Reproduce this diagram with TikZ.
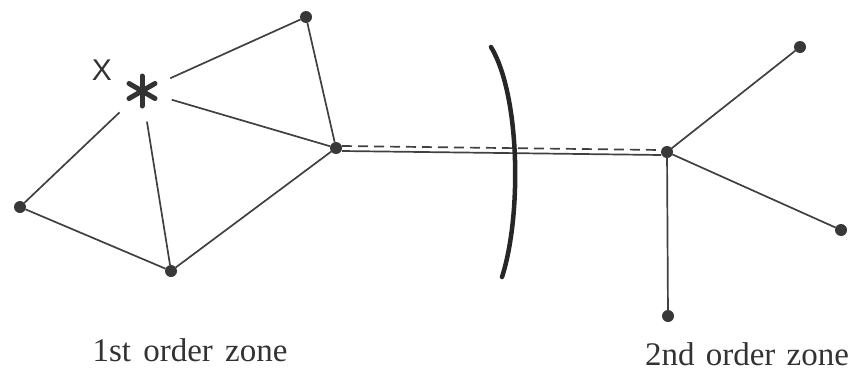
\documentclass[tikz,border=0pt]{standalone}
\usepackage{fontspec}
\setmainfont{Liberation Serif}
\newfontfamily\xfont{Liberation Sans}
\begin{document}
\begin{tikzpicture}[x=1pt,y=-1pt,
  dot/.style={circle,fill=black!78,inner sep=0pt,minimum size=12pt,outer sep=0pt},
  link/.style={draw=black!75,line width=1.7pt},
  lbl/.style={font=\fontsize{33}{36}\selectfont,text=black!80,inner sep=0pt}]
\useasboundingbox (0,0) rectangle (858,372);
% nodes
\node[dot] (top) at (306,17) {};
\node[circle,minimum size=62pt,inner sep=0pt,outer sep=0pt] (star) at (142,91) {};
\node[dot] (left) at (20,207) {};
\node[dot] (bot) at (171,271) {};
\node[dot] (hub1) at (336,148) {};
\node[dot] (hub2) at (667,152) {};
\node[dot] (r1) at (800,47) {};
\node[dot] (r2) at (841,230) {};
\node[dot] (r3) at (668,316) {};
% asterisk
\foreach \a in {90,30,150,210,270,330}
  \draw[line width=5pt,line cap=round,black!80] (star.center) -- ++(\a:-15);
\node[font=\xfont\fontsize{30}{33}\selectfont,text=black!80,inner sep=0pt] (xl) at (102,70) {X};
% first order links
\draw[link] (star) -- (top);
\draw[link] (star) -- (hub1);
\draw[link] (star) -- (left);
\draw[link] (star) -- (bot);
\draw[link] (left) -- (bot);
\draw[link] (bot) -- (hub1);
\draw[link] (top) -- (hub1);
% double connection
\draw[link,dash pattern=on 10pt off 6pt] ([yshift=2pt]hub1.east) -- ([yshift=2pt]hub2.west);
\draw[link] ([yshift=-3pt]hub1.east) -- ([yshift=-3pt]hub2.west);
% second order links
\draw[link] (hub2) -- (r1);
\draw[link] (hub2) -- (r2);
\draw[link] (hub2) -- (r3);
% barrier arc
\coordinate (arcA) at (491,47);
\coordinate (arcC1) at (520,95);
\coordinate (arcC2) at (522,215);
\coordinate (arcB) at (502,277);
\draw[line width=4.5pt,black!85,line cap=round] (arcA) .. controls (arcC1) and (arcC2) .. (arcB);
% labels
\node[lbl] (z1) at (190,350) {1st\hspace{4pt} order\hspace{4pt} zone};
\node[lbl] (z2) at (747,354) {2nd\hspace{3pt} order\hspace{3pt} zone};
\end{tikzpicture}
\end{document}
